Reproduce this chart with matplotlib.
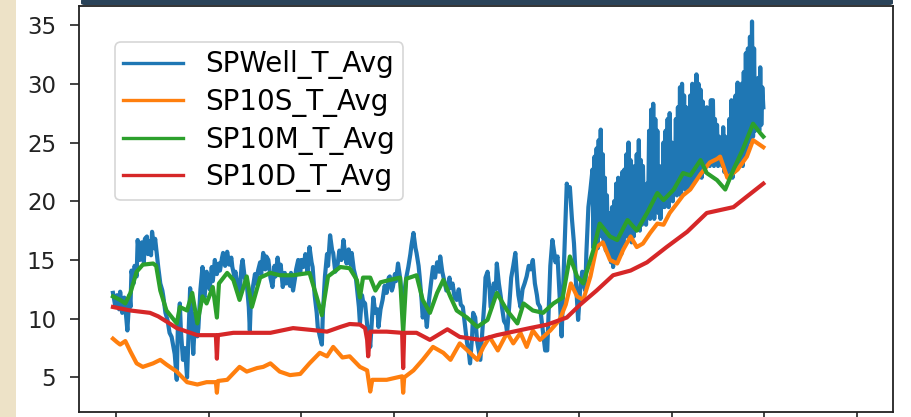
import matplotlib
matplotlib.use("Agg")
import matplotlib.pyplot as plt
from matplotlib.patches import FancyBboxPatch, Rectangle

# Temperature records, sampled every 8 hours (sample index, degrees C)
well_t = [0, 2, 4, 6, 7, 9, 11, 12, 14, 16, 17, 18, 20, 21, 23, 24, 26, 28, 30, 31,
          33, 34, 36, 37, 38, 40, 41, 43, 44, 46, 48, 49, 51, 53, 55, 57, 59, 60, 62, 63,
          65, 66, 68, 70, 72, 74, 75, 77, 78, 80, 82, 83, 85, 87, 88, 89, 91, 92, 94, 96,
          97, 99, 101, 103, 104, 106, 107, 109, 111, 113, 115, 116, 118, 119, 121, 123, 125, 126, 128, 130,
          132, 133, 134, 136, 138, 139, 141, 143, 144, 146, 148, 149, 151, 153, 155, 157, 158, 160, 162, 163,
          165, 167, 168, 170, 172, 173, 175, 177, 178, 180, 182, 183, 185, 187, 189, 191, 193, 194, 196, 198,
          199, 201, 203, 204, 206, 208, 209, 211, 213, 214, 216, 218, 220, 222, 224, 226, 227, 229, 231, 232,
          234, 236, 237, 239, 240, 242, 243, 245, 247, 249, 250, 252, 253, 255, 257, 258, 260, 262, 264, 266,
          268, 269, 271, 272, 274, 275, 277, 279, 280, 282, 284, 285, 287, 289, 290, 292, 294, 295, 297, 298,
          300, 301, 303, 305, 307, 309, 311, 313, 315, 317, 318, 320, 322, 324, 325, 327, 328, 330, 332, 334,
          336, 338, 340, 342, 344, 346, 347, 349, 350, 352, 354, 356, 357, 359, 361, 362, 364, 366, 367, 368,
          370, 372, 373, 375, 377, 378, 380, 382, 383, 385, 387, 389, 391, 393, 394, 396, 398, 400, 402, 404,
          406, 408, 410, 412, 413, 415, 417, 419, 420, 422, 424, 425, 427, 429, 430, 432, 434, 436, 438, 440,
          441, 443, 444, 446, 448, 450, 452, 454, 456, 457, 459, 460, 462, 464] + list(range(466, 633))
well_v = [12.2, 11.2, 12.0, 10.8, 12.3, 10.5, 11.8, 11.0, 9.0, 12.0, 11.0, 14.1, 13.0, 14.5, 13.6, 16.7, 15.0, 16.5, 14.8, 16.8,
          17.0, 15.5, 16.6, 15.4, 17.4, 16.0, 16.8, 15.2, 14.4, 13.0, 12.4, 11.85, 10.5, 9.9, 8.8, 8.45, 7.5, 7.0, 4.8, 9.0,
          11.3, 9.0, 6.5, 7.5, 5.0, 10.0, 12.6, 9.0, 7.0, 10.5, 8.5, 9.2, 12.5, 14.4, 12.0, 11.8, 14.0, 13.6, 12.5, 14.4,
          13.2, 15.0, 13.8, 14.7, 14.1, 15.2, 15.6, 14.5, 15.7, 14.6, 15.2, 14.4, 13.6, 14.0, 12.8, 12.2, 14.5, 15.0, 13.5, 13.0,
          11.0, 9.0, 11.5, 12.7, 13.8, 13.0, 14.1, 14.8, 13.8, 15.6, 14.2, 15.3, 15.0, 13.5, 12.7, 14.5, 13.6, 15.2, 13.8, 14.6,
          12.7, 13.9, 13.0, 13.6, 12.8, 13.9, 12.4, 13.5, 14.2, 15.0, 13.8, 15.0, 14.4, 15.5, 14.0, 16.1, 14.8, 14.4, 12.0, 10.5,
          9.3, 8.5, 7.8, 10.5, 13.6, 15.5, 14.5, 17.1, 15.8, 15.6, 14.0, 14.4, 15.8, 15.0, 16.7, 15.2, 14.7, 15.9, 14.6, 15.6,
          14.2, 13.5, 12.7, 11.0, 9.6, 12.0, 11.5, 11.3, 9.5, 8.5, 7.6, 10.5, 11.8, 10.5, 10.8, 9.3, 10.8, 11.6, 12.8, 12.2,
          13.5, 13.6, 12.4, 12.7, 13.8, 13.2, 14.7, 13.5, 12.5, 11.0, 12.8, 13.5, 14.4, 15.5, 16.2, 17.3, 16.0, 15.6, 14.5, 13.6,
          11.5, 10.1, 11.0, 9.3, 11.5, 13.0, 14.4, 13.5, 14.8, 14.0, 15.3, 14.0, 13.2, 12.4, 12.4, 13.5, 12.6, 13.0, 11.8, 11.6,
          12.5, 11.2, 11.0, 9.5, 8.0, 7.0, 6.2, 8.5, 10.5, 10.1, 8.0, 7.0, 6.5, 9.0, 11.5, 13.5, 14.0, 12.5, 11.0, 11.0,
          13.0, 12.5, 14.7, 13.0, 11.8, 11.0, 9.8, 9.5, 8.8, 11.0, 13.5, 14.5, 15.6, 13.0, 12.0, 11.0, 12.5, 13.0, 13.6, 14.5,
          14.2, 15.0, 13.0, 12.0, 11.3, 11.0, 9.5, 8.0, 7.3, 7.3, 12.0, 14.5, 16.7, 15.5, 14.8, 15.3, 12.0, 8.5, 14.0, 19.0,
          21.5, 20.5, 21.2, 18.5, 16.4, 13.0, 9.9, 12.5, 14.0, 13.0, 12.4, 15.5, 19.5, 21.0,
          22.7, 16.0, 23.8, 17.5, 24.5, 16.0, 25.2, 18.0, 26.1, 17.0,
          24.0, 16.5, 22.0, 15.8, 20.5, 15.5, 18.0, 19.0, 14.8, 19.5,
          14.4, 20.0, 15.0, 21.5, 15.2, 22.0, 16.0, 21.0, 15.5, 22.5,
          16.5, 22.7, 17.0, 24.0, 17.0, 25.0, 18.0, 23.5, 16.5, 21.5,
          17.0, 23.0, 17.5, 24.0, 18.0, 25.2, 17.5, 23.5, 18.0, 23.0,
          18.5, 21.0, 18.0, 21.5, 19.0, 26.0, 18.5, 27.8, 19.0, 28.3,
          18.5, 27.0, 19.5, 26.0, 19.0, 23.0, 18.5, 22.0, 19.5, 25.0,
          19.5, 26.0, 20.0, 27.0, 19.5, 27.5, 20.5, 25.0, 20.0, 24.0,
          21.0, 27.0, 20.5, 28.0, 21.0, 29.7, 20.5, 30.0, 21.5, 29.0,
          21.0, 28.0, 22.0, 27.0, 21.0, 29.0, 22.0, 30.0, 21.5, 29.5,
          22.5, 30.8, 22.0, 30.0, 22.5, 29.5, 22.0, 28.5, 22.5, 27.0,
          23.0, 28.0, 23.5, 27.5, 23.0, 28.6, 23.5, 28.6, 23.0, 27.0,
          23.5, 26.5, 23.0, 25.5, 23.5, 24.5, 23.0, 26.3, 22.5, 25.5,
          22.5, 25.0, 22.0, 27.0, 22.5, 28.6, 22.0, 26.5, 22.5, 29.0,
          23.0, 30.1, 23.0, 29.5, 23.5, 30.0, 23.0, 31.0, 24.0, 32.6,
          24.5, 33.0, 25.0, 34.0, 25.0, 35.3, 25.5, 33.0, 26.0, 30.0,
          26.5, 30.5, 26.0, 31.4, 26.5, 29.7, 28.0]

s10s_t = [0, 4, 7, 12, 17, 23, 29, 39, 46, 52, 62, 72, 82, 91, 100, 101, 102, 111, 123, 130,
          140, 146, 153, 162, 172, 182, 191, 201, 208, 214, 223, 230, 240, 247, 248, 250, 252, 260, 266, 276,
          281, 282, 283, 292, 301, 311, 321, 328, 337, 347, 354, 360, 366, 374, 383, 389, 396, 402, 408, 415,
          425, 434, 440, 445, 451, 457, 464, 470, 476, 483, 490, 496, 503, 509, 515, 522, 529, 535, 541, 548,
          554, 561, 571, 580, 587, 590, 597, 607, 616, 622, 632]
s10s_v = [8.3, 8.0, 7.8, 8.1, 7.2, 6.2, 5.9, 6.2, 6.5, 6.1, 5.5, 4.6, 4.4, 4.6, 4.6, 3.7, 4.7, 4.8, 5.9, 5.5,
          5.8, 5.9, 6.2, 5.5, 5.2, 5.3, 6.2, 7.1, 6.8, 7.6, 6.7, 6.8, 5.9, 5.6, 5.0, 3.8, 4.8, 4.8, 4.8, 5.0,
          5.1, 3.7, 5.0, 5.6, 6.5, 7.6, 7.1, 6.5, 7.9, 7.1, 6.5, 7.6, 8.45, 7.3, 8.8, 7.9, 8.8, 7.6, 9.0, 8.2,
          9.0, 9.9, 11.2, 13.0, 11.9, 11.6, 13.6, 16.1, 16.5, 15.0, 14.7, 15.9, 17.0, 16.1, 16.4, 17.3, 18.1, 18.0, 19.0, 19.8,
          20.5, 21.0, 22.3, 23.3, 23.6, 23.8, 22.0, 22.7, 23.8, 25.2, 24.6]

s10m_t = [0, 7, 12, 17, 23, 29, 39, 42, 46, 52, 62, 65, 72, 77, 82, 87, 91, 97, 101, 103,
          111, 117, 123, 130, 135, 143, 153, 162, 175, 191, 198, 203, 209, 221, 230, 237, 240, 243, 250, 255,
          260, 269, 279, 282, 285, 295, 301, 308, 315, 321, 328, 334, 344, 354, 364, 373, 383, 393, 399, 408,
          418, 428, 437, 444, 451, 457, 467, 473, 483, 490, 500, 509, 519, 529, 535, 545, 554, 561, 571, 577,
          587, 595, 603, 612, 622, 629, 632]
s10m_v = [11.9, 11.6, 11.3, 12.2, 14.0, 14.6, 14.7, 14.5, 12.4, 10.7, 9.6, 11.0, 10.7, 12.2, 9.6, 11.9, 11.3, 12.7, 10.1, 13.0,
          13.9, 13.3, 11.6, 13.6, 11.0, 13.5, 13.9, 13.7, 13.7, 13.9, 11.85, 10.3, 13.6, 14.4, 14.3, 13.3, 11.8, 13.5, 13.5, 12.4,
          13.1, 13.3, 13.5, 8.8, 13.4, 13.7, 11.6, 10.5, 12.2, 13.3, 11.85, 10.7, 10.1, 9.3, 9.9, 12.2, 10.7, 9.6, 11.3, 10.7,
          10.5, 11.3, 11.8, 15.3, 13.6, 13.0, 15.9, 18.1, 17.0, 16.7, 18.4, 17.5, 19.0, 20.7, 20.1, 21.0, 22.4, 22.2, 23.5, 22.4,
          21.8, 21.0, 22.7, 24.4, 26.6, 25.8, 25.5]

s10d_t = [0, 17, 36, 44, 55, 62, 72, 82, 100, 101, 102, 117, 133, 153, 175, 198, 208, 221, 230, 240,
          245, 247, 248, 250, 266, 281, 282, 283, 295, 308, 325, 337, 357, 373, 389, 405, 422, 441, 454, 470,
          486, 503, 519, 538, 558, 577, 603, 616, 632]
s10d_v = [11.0, 10.7, 10.5, 10.2, 9.6, 9.2, 8.9, 8.6, 8.6, 6.6, 8.6, 8.8, 8.8, 8.8, 9.2, 9.0, 8.9, 9.3, 9.55, 9.5,
          9.2, 8.2, 6.8, 8.9, 8.9, 8.8, 5.8, 8.8, 8.8, 8.2, 9.1, 8.45, 8.2, 8.6, 8.9, 9.2, 9.5, 10.1, 11.2, 12.4,
          13.7, 14.1, 14.8, 16.1, 17.4, 19.0, 19.5, 20.4, 21.5]

series_names = ["SPWell_T_Avg", "SP10S_T_Avg", "SP10M_T_Avg", "SP10D_T_Avg"]
series_colors = ["#1f77b4", "#ff7f0e", "#2ca02c", "#d62728"]
month_ticks = [3, 93, 183, 273, 363, 453, 543, 633, 723]
y_ticks = [5, 10, 15, 20, 25, 30, 35]

W, H = 911, 417
fig = plt.figure(figsize=(W / 100, H / 100), dpi=100)
fig.patch.set_facecolor("white")

ax = fig.add_axes([79 / W, 5 / H, (893 - 79) / W, (411 - 5) / H])
for t, v, name, c in zip([well_t, s10s_t, s10m_t, s10d_t],
                         [well_v, s10s_v, s10m_v, s10d_v],
                         series_names, series_colors):
    ax.plot(t, v, color=c, lw=3.0, label=name, solid_joinstyle="round")

ax.set_xlim(-33, 758)
ax.set_ylim(2.06, 36.62)
ax.set_xticks(month_ticks)
ax.set_xticklabels([])
ax.set_yticks(y_ticks)
ax.tick_params(axis="y", labelsize=16.5, length=6.5, width=1.2, pad=10, colors="#222222")
ax.tick_params(axis="x", length=6.5, width=1.2, colors="#222222")
for sp in ax.spines.values():
    sp.set_linewidth(1.3)
    sp.set_color("#222222")

leg = ax.legend(loc="upper left", bbox_to_anchor=(36 / 814, 1 - 36 / 406),
                borderaxespad=0, fontsize=20, handlelength=2.15,
                handletextpad=0.8, labelspacing=0.31, borderpad=0.3,
                frameon=True, fancybox=True)
leg.get_frame().set_edgecolor("#cccccc")
leg.get_frame().set_linewidth(1.2)
for line in leg.get_lines():
    line.set_linewidth(2.4)

# page decorations: beige margin on the left, dark banner along the top
fig.add_artist(Rectangle((0, 0), 16 / W, 1, transform=fig.transFigure,
                         facecolor="#ede2c7", edgecolor="none", zorder=5))
fig.add_artist(FancyBboxPatch((81 / W, 1 - 5 / H), (893 - 81) / W, 6 / H,
                              boxstyle="round,pad=0,rounding_size=0.004",
                              transform=fig.transFigure, facecolor="#2a4359",
                              edgecolor="none", zorder=5, clip_on=False))

fig.savefig("out.png", dpi=100)
